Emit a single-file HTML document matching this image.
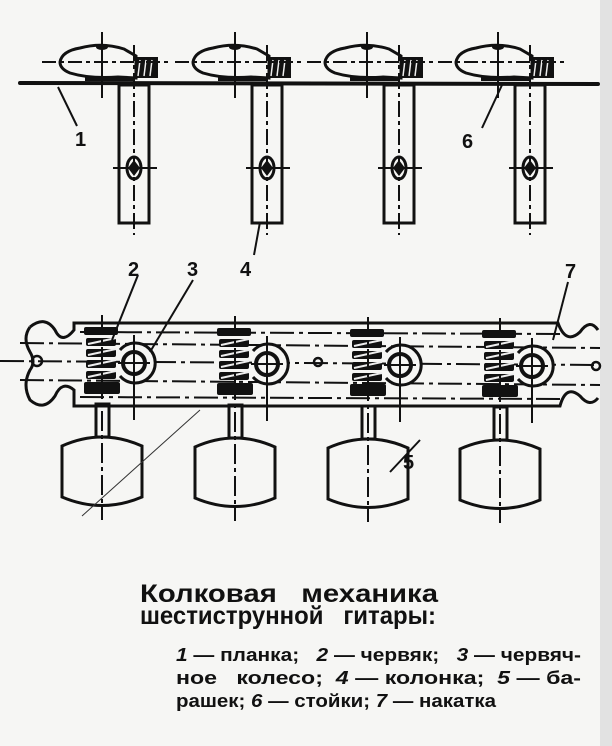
<!DOCTYPE html>
<html><head><meta charset="utf-8"><style>
html,body{margin:0;padding:0;background:#f6f6f4;}
svg{display:block}
</style></head><body>
<svg width="612" height="746" viewBox="0 0 612 746" xmlns="http://www.w3.org/2000/svg">
<rect x="0" y="0" width="612" height="746" fill="#f6f6f4"/>
<rect x="600" y="0" width="12" height="746" fill="#e2e2e2"/>
<defs>
<g id="top">
  <path d="M60,62 Q62,51 80,48 Q102,42 124,49 L136,56 L136,78 L118,77 Q90,79 70,73 Q60,69 60,62 Z" fill="#f6f6f4" stroke="#111" stroke-width="3"/>
  <rect x="135" y="57" width="23" height="21" fill="#111"/>
  <line x1="140" y1="60" x2="138" y2="76" stroke="#eee" stroke-width="1.5"/>
  <line x1="146" y1="60" x2="144" y2="76" stroke="#eee" stroke-width="1.5"/>
  <line x1="152" y1="60" x2="150" y2="76" stroke="#eee" stroke-width="1.5"/>
  <rect x="85" y="77" width="50" height="4" fill="#111"/>
  <line x1="42" y1="62" x2="168" y2="62" stroke="#111" stroke-width="2" stroke-dasharray="14,4,4,4"/>
  <line x1="102" y1="32" x2="102" y2="98" stroke="#111" stroke-width="2"/>
  <ellipse cx="102" cy="47" rx="6" ry="3" fill="#111"/>
  <rect x="119" y="85" width="30" height="138" fill="none" stroke="#111" stroke-width="3"/>
  <line x1="134" y1="45" x2="134" y2="235" stroke="#111" stroke-width="2" stroke-dasharray="16,4,4,4"/>
  <ellipse cx="134" cy="168" rx="7" ry="11" fill="none" stroke="#111" stroke-width="3"/>
  <path d="M134,160 L140,168 L134,176 L128,168 Z" fill="#111"/>
  <line x1="113" y1="168" x2="157" y2="168" stroke="#111" stroke-width="2"/>
</g>
<g id="bot">
  <rect x="84" y="327" width="34" height="8" rx="2" fill="#111"/>
  <rect x="86" y="338" width="30" height="8" rx="2" fill="#111"/>
  <rect x="86" y="349" width="30" height="8" rx="2" fill="#111"/>
  <rect x="86" y="360" width="30" height="8" rx="2" fill="#111"/>
  <rect x="86" y="371" width="30" height="8" rx="2" fill="#111"/>
  <rect x="84" y="382" width="36" height="12" rx="2" fill="#111"/>
  <path d="M88,344 L116,338 M88,355 L116,349 M88,366 L116,360 M88,377 L116,371" stroke="#eee" stroke-width="2"/>
  <path d="M120,350 A20,20 0 1 1 120,376" fill="#f6f6f4" stroke="#111" stroke-width="3"/>
  <circle cx="134" cy="363" r="11" fill="none" stroke="#111" stroke-width="4"/>
  <line x1="134" y1="335" x2="134" y2="420" stroke="#111" stroke-width="2"/>
  <line x1="118" y1="363" x2="150" y2="363" stroke="#111" stroke-width="2"/>
  <rect x="96" y="404" width="13" height="33" fill="none" stroke="#111" stroke-width="3"/>
  <path d="M62,446 Q102,428 142,446 L142,497 Q102,514 62,497 Z" fill="#f6f6f4" stroke="#111" stroke-width="3"/>
  <line x1="102" y1="315" x2="102" y2="520" stroke="#111" stroke-width="2" stroke-dasharray="20,4,4,4"/>
</g>
</defs>
<line x1="20" y1="83" x2="598" y2="84" stroke="#111" stroke-width="4" stroke-linecap="round"/>
<use href="#top"/>
<use href="#top" transform="translate(133,0)"/>
<use href="#top" transform="translate(265,0)"/>
<use href="#top" transform="translate(396,0)"/>
<line x1="58" y1="87" x2="77" y2="126" stroke="#111" stroke-width="2"/>
<text x="75" y="146" font-family="Liberation Sans, sans-serif" font-size="20" font-weight="bold" fill="#111">1</text>
<line x1="502" y1="85" x2="482" y2="128" stroke="#111" stroke-width="2"/>
<text x="462" y="148" font-family="Liberation Sans, sans-serif" font-size="20" font-weight="bold" fill="#111">6</text>
<line x1="260" y1="222" x2="254" y2="255" stroke="#111" stroke-width="2"/>
<text x="240" y="276" font-family="Liberation Sans, sans-serif" font-size="20" font-weight="bold" fill="#111">4</text>
<text x="128" y="276" font-family="Liberation Sans, sans-serif" font-size="20" font-weight="bold" fill="#111">2</text>
<text x="187" y="276" font-family="Liberation Sans, sans-serif" font-size="20" font-weight="bold" fill="#111">3</text>
<text x="565" y="278" font-family="Liberation Sans, sans-serif" font-size="20" font-weight="bold" fill="#111">7</text>
<!-- plate -->
<path d="M30,327 Q45,315 55,330 Q62,345 74,330 L74,323 L558,323 Q566,345 580,332 Q590,318 598,330" fill="none" stroke="#111" stroke-width="3"/>
<path d="M598,398 Q590,408 580,396 Q566,384 560,406 L74,406 L74,390 Q62,380 55,396 Q44,412 30,400 Q22,385 30,370 Q36,362 30,352 Q22,338 30,327" fill="none" stroke="#111" stroke-width="3"/>
<circle cx="37" cy="361" r="5" fill="none" stroke="#111" stroke-width="2.5"/>
<circle cx="318" cy="362" r="4" fill="none" stroke="#111" stroke-width="2.5"/>
<circle cx="596" cy="366" r="4" fill="none" stroke="#111" stroke-width="2.5"/>
<line x1="0" y1="361" x2="600" y2="365" stroke="#111" stroke-width="2" stroke-dasharray="24,5,4,5"/>
<line x1="20" y1="343" x2="600" y2="348" stroke="#111" stroke-width="2" stroke-dasharray="24,5,4,5"/>
<line x1="20" y1="380" x2="600" y2="385" stroke="#111" stroke-width="2" stroke-dasharray="24,5,4,5"/>
<line x1="80" y1="332" x2="560" y2="334" stroke="#111" stroke-width="2" stroke-dasharray="24,5,4,5"/>
<line x1="80" y1="397" x2="560" y2="399" stroke="#111" stroke-width="2" stroke-dasharray="24,5,4,5"/>
<use href="#bot"/>
<use href="#bot" transform="translate(133,1)"/>
<use href="#bot" transform="translate(266,2)"/>
<use href="#bot" transform="translate(398,3)"/>
<line x1="138" y1="275" x2="112" y2="340" stroke="#111" stroke-width="2"/>
<line x1="193" y1="280" x2="150" y2="352" stroke="#111" stroke-width="2"/>
<line x1="568" y1="282" x2="553" y2="340" stroke="#111" stroke-width="2"/>
<line x1="200" y1="410" x2="82" y2="516" stroke="#333" stroke-width="1"/>
<line x1="420" y1="440" x2="390" y2="472" stroke="#111" stroke-width="2"/>
<text x="403" y="469" font-family="Liberation Sans, sans-serif" font-size="20" font-weight="bold" fill="#111">5</text>
<g font-family="Liberation Sans, sans-serif" font-weight="bold" fill="#111">
<text x="140" y="602" font-size="25" textLength="298" lengthAdjust="spacingAndGlyphs">Колковая&#160;&#160;&#160;механика</text>
<text x="140" y="624" font-size="25" textLength="296" lengthAdjust="spacingAndGlyphs">шестиструнной&#160;&#160;&#160;гитары:</text>
<text x="176" y="661" font-size="18" textLength="405" lengthAdjust="spacingAndGlyphs"><tspan font-style="italic">1</tspan> — планка;&#160;&#160; <tspan font-style="italic">2</tspan> — червяк;&#160;&#160; <tspan font-style="italic">3</tspan> — червяч-</text>
<text x="176" y="684" font-size="18" textLength="405" lengthAdjust="spacingAndGlyphs">ное&#160;&#160; колесо;&#160; <tspan font-style="italic">4</tspan> — колонка;&#160; <tspan font-style="italic">5</tspan> — ба-</text>
<text x="176" y="707" font-size="18" textLength="320" lengthAdjust="spacingAndGlyphs">рашек; <tspan font-style="italic">6</tspan> — стойки; <tspan font-style="italic">7</tspan> — накатка</text>
</g>
</svg>
</body></html>
